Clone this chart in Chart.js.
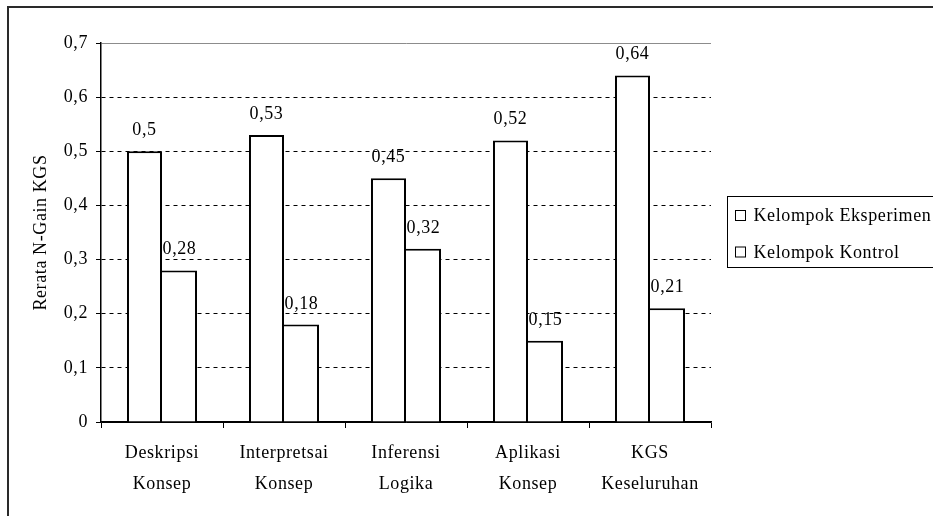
<!DOCTYPE html>
<html>
<head>
<meta charset="utf-8">
<script src="https://cdn.jsdelivr.net/npm/chart.js@4/dist/chart.umd.min.js"></script>
<style>
  html, body { margin: 0; padding: 0; background: #fff; }
  canvas { display: block; }
</style>
</head>
<body>
<canvas id="c" width="933" height="516"></canvas>
<script>
// Kategori aspek KGS (label sumbu-x, dua baris)
const categories = [
  ['Deskripsi', 'Konsep'],
  ['Interpretsai', 'Konsep'],
  ['Inferensi', 'Logika'],
  ['Aplikasi', 'Konsep'],
  ['KGS', 'Keseluruhan']
];
const seriesNames = ['Kelompok Eksperimen', 'Kelompok Kontrol'];
const eksperimen = [0.5, 0.53, 0.45, 0.52, 0.64];
const kontrol = [0.28, 0.18, 0.32, 0.15, 0.21];
const yAxisTitle = 'Rerata N-Gain KGS';
const yMin = 0;
const yMax = 0.7;
const yStep = 0.1;

const FONT_FAMILY = "'Liberation Serif', 'Times New Roman', serif";
const FONT_SIZE = 18;
const LETTER_SPACING = '0.6px';

const fmt = v => {
  const r = Math.round(v * 100) / 100;
  return r === 0 ? '0' : String(r).replace('.', ',');
};
const isTop = v => Math.abs(v - yMax) < 1e-9;

// Sedikit jarak antar huruf untuk semua teks kanvas
const spacingPlugin = {
  id: 'spacing',
  beforeUpdate(chart) { chart.ctx.letterSpacing = LETTER_SPACING; },
  beforeDraw(chart) { chart.ctx.letterSpacing = LETTER_SPACING; }
};

// Bingkai luar (atas dan kiri)
const framePlugin = {
  id: 'frame',
  beforeDraw(chart) {
    const ctx = chart.ctx;
    ctx.save();
    ctx.strokeStyle = '#2a2a2a';
    ctx.lineWidth = 2;
    ctx.beginPath();
    ctx.moveTo(8, chart.height);
    ctx.lineTo(8, 7);
    ctx.lineTo(chart.width, 7);
    ctx.stroke();
    ctx.restore();
  }
};

// Nilai di atas setiap batang
const valueLabelPlugin = {
  id: 'valueLabels',
  afterDatasetsDraw(chart) {
    const ctx = chart.ctx;
    ctx.save();
    ctx.letterSpacing = LETTER_SPACING;
    ctx.font = FONT_SIZE + 'px ' + FONT_FAMILY;
    ctx.fillStyle = '#000';
    ctx.textAlign = 'center';
    ctx.textBaseline = 'alphabetic';
    chart.data.datasets.forEach((ds, di) => {
      const meta = chart.getDatasetMeta(di);
      meta.data.forEach((bar, i) => {
        ctx.fillText(fmt(ds.data[i]), bar.x, bar.y - 16);
      });
    });
    ctx.restore();
  }
};

// Kotak legenda di sebelah kanan
const legendBoxPlugin = {
  id: 'legendBox',
  afterDraw(chart) {
    const ctx = chart.ctx;
    const area = chart.chartArea;
    const boxX = area.right + 16.5;
    const boxY = 196.5;
    const rowGap = 36.5;
    ctx.save();
    ctx.letterSpacing = LETTER_SPACING;
    ctx.strokeStyle = '#000';
    ctx.lineWidth = 1;
    ctx.strokeRect(boxX, boxY, chart.width - boxX + 10, 71);
    ctx.font = FONT_SIZE + 'px ' + FONT_FAMILY;
    ctx.textAlign = 'left';
    ctx.textBaseline = 'middle';
    chart.data.datasets.forEach((ds, di) => {
      const cy = boxY + 19 + di * rowGap;
      ctx.fillStyle = ds.backgroundColor;
      ctx.fillRect(boxX + 8, cy - 5, 10, 10);
      ctx.strokeRect(boxX + 8, cy - 5, 10, 10);
      ctx.fillStyle = '#000';
      ctx.fillText(ds.label, boxX + 26, cy + 1);
    });
    ctx.restore();
  }
};

new Chart(document.getElementById('c'), {
  type: 'bar',
  data: {
    labels: categories,
    datasets: [
      {
        label: seriesNames[0],
        data: eksperimen,
        backgroundColor: '#ffffff',
        borderColor: '#000000',
        borderWidth: 2
      },
      {
        label: seriesNames[1],
        data: kontrol,
        backgroundColor: '#ffffff',
        borderColor: '#000000',
        borderWidth: { top: 2, right: 2, bottom: 0, left: 0 }
      }
    ]
  },
  options: {
    responsive: false,
    animation: false,
    devicePixelRatio: 1,
    layout: { padding: { top: 43, right: 222, bottom: 0, left: 0 } },
    datasets: {
      bar: { categoryPercentage: 0.574, barPercentage: 1.0, borderSkipped: 'start' }
    },
    plugins: {
      legend: { display: false },
      tooltip: { enabled: false }
    },
    scales: {
      x: {
        offset: true,
        afterFit(scale) {
          scale.height = 94;
          scale.paddingLeft = 0;
          scale.paddingRight = 0;
        },
        grid: {
          offset: true,
          drawOnChartArea: true,
          drawTicks: true,
          tickLength: 6,
          tickColor: '#000',
          lineWidth: 1,
          color: ctx => (ctx.index === categories.length ? '#8c8c8c' : 'rgba(0,0,0,0)')
        },
        border: { display: true, color: '#000', width: 1.5 },
        ticks: {
          color: '#000',
          padding: 10,
          maxRotation: 0,
          autoSkip: false,
          font: { family: FONT_FAMILY, size: FONT_SIZE, lineHeight: 1.7 }
        }
      },
      y: {
        min: yMin,
        max: yMax,
        afterFit(scale) {
          scale.width = 101;
          scale.paddingTop = 0;
          scale.paddingBottom = 0;
        },
        grid: {
          color: ctx => (isTop(ctx.tick.value) ? '#8c8c8c' : '#000'),
          lineWidth: 1,
          tickLength: 5,
          tickColor: '#000',
          tickBorderDash: []
        },
        border: {
          display: true,
          color: '#000',
          width: 1.5,
          dash: ctx => (isTop(ctx.tick.value) || ctx.tick.value === 0 ? [] : [4, 4])
        },
        ticks: {
          stepSize: yStep,
          color: '#000',
          padding: 8,
          font: { family: FONT_FAMILY, size: FONT_SIZE },
          callback: v => fmt(v)
        },
        title: {
          display: true,
          text: yAxisTitle,
          color: '#000',
          font: { family: FONT_FAMILY, size: FONT_SIZE },
          padding: { top: 30, bottom: 0 }
        }
      }
    }
  },
  plugins: [spacingPlugin, framePlugin, valueLabelPlugin, legendBoxPlugin]
});
</script>
</body>
</html>
